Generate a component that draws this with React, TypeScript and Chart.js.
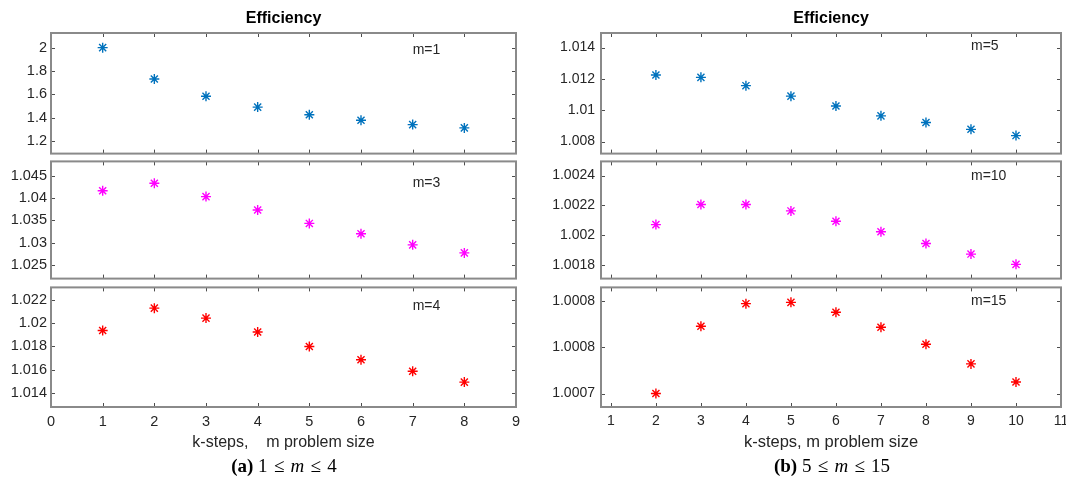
import React, { useEffect, useRef } from "react";
import { Chart, registerables } from "chart.js";

Chart.register(...registerables);

const SANS = "'Liberation Sans', Arial, Helvetica, sans-serif";
const SERIF = "'Liberation Serif', 'Times New Roman', Times, serif";

// ---------- (a) 1 <= m <= 4 ----------
const kStepsA = [1, 2, 3, 4, 5, 6, 7, 8];
const effM1 = [2.0, 1.731, 1.583, 1.49, 1.425, 1.377, 1.34, 1.312];
const effM3 = [1.0416, 1.0433, 1.0403, 1.0373, 1.0343, 1.032, 1.0295, 1.0277];
const effM4 = [1.01937, 1.0213, 1.02044, 1.01925, 1.018, 1.01686, 1.01587, 1.01493];

// ---------- (b) 5 <= m <= 15 ----------
const kStepsB = [2, 3, 4, 5, 6, 7, 8, 9, 10];
const effM5 = [1.01225, 1.0121, 1.01157, 1.0109, 1.01027, 1.00964, 1.00922, 1.00878, 1.00838];
const effM10 = [1.002071, 1.002206, 1.002206, 1.002163, 1.002094, 1.002023, 1.001944, 1.001873, 1.001804];
const effM15 = [1.0007, 1.0007724, 1.0007968, 1.0007982, 1.0007876, 1.0007714, 1.0007531, 1.0007319, 1.0007124];

// ---------- ticks & labels ----------
const xTicksA = [0, 1, 2, 3, 4, 5, 6, 7, 8, 9];
const xTicksB = [1, 2, 3, 4, 5, 6, 7, 8, 9, 10, 11];
const yTicksM1 = [1.2, 1.4, 1.6, 1.8, 2];
const yLabelsM1 = ["1.2", "1.4", "1.6", "1.8", "2"];
const yTicksM3 = [1.025, 1.03, 1.035, 1.04, 1.045];
const yLabelsM3 = ["1.025", "1.03", "1.035", "1.04", "1.045"];
const yTicksM4 = [1.014, 1.016, 1.018, 1.02, 1.022];
const yLabelsM4 = ["1.014", "1.016", "1.018", "1.02", "1.022"];
const yTicksM5 = [1.008, 1.01, 1.012, 1.014];
const yLabelsM5 = ["1.008", "1.01", "1.012", "1.014"];
const yTicksM10 = [1.0018, 1.002, 1.0022, 1.0024];
const yLabelsM10 = ["1.0018", "1.002", "1.0022", "1.0024"];
const yTicksM15 = [1.0007, 1.00075, 1.0008];
const yLabelsM15 = ["1.0007", "1.0008", "1.0008"];

const titleText = "Efficiency";
const xTitleA = "k-steps,    m problem size";
const xTitleB = "k-steps, m problem size";

type Panel = {
  xs: number[];
  ys: number[];
  color: string;
  name: string;
  nameAt: [number, number];
  xRange: [number, number];
  yRange: [number, number];
  xTicks: number[];
  yTicks: number[];
  yLabels: string[];
  col: number;
  row: number;
  xTitle?: string;
};

const BLUE = "#0072BD";
const MAGENTA = "#FF00FF";
const RED = "#FF0000";

const panels: Panel[] = [
  { xs: kStepsA, ys: effM1, color: BLUE, name: "m=1", nameAt: [7, 1.977], xRange: [0, 9], yRange: [1.0915, 2.1254], xTicks: xTicksA, yTicks: yTicksM1, yLabels: yLabelsM1, col: 0, row: 0 },
  { xs: kStepsA, ys: effM3, color: MAGENTA, name: "m=3", nameAt: [7, 1.04334], xRange: [0, 9], yRange: [1.021946, 1.048183], xTicks: xTicksA, yTicks: yTicksM3, yLabels: yLabelsM3, col: 0, row: 1 },
  { xs: kStepsA, ys: effM4, color: RED, name: "m=4", nameAt: [7, 1.02143], xRange: [0, 9], yRange: [1.012788, 1.023085], xTicks: xTicksA, yTicks: yTicksM4, yLabels: yLabelsM4, col: 0, row: 2, xTitle: xTitleA },
  { xs: kStepsB, ys: effM5, color: BLUE, name: "m=5", nameAt: [9, 1.01408], xRange: [0.78, 11], yRange: [1.007229, 1.014935], xTicks: xTicksB, yTicks: yTicksM5, yLabels: yLabelsM5, col: 1, row: 0 },
  { xs: kStepsB, ys: effM10, color: MAGENTA, name: "m=10", nameAt: [9, 1.002395], xRange: [0.78, 11], yRange: [1.0017084, 1.0024955], xTicks: xTicksB, yTicks: yTicksM10, yLabels: yLabelsM10, col: 1, row: 1 },
  { xs: kStepsB, ys: effM15, color: RED, name: "m=15", nameAt: [9, 1.0008], xRange: [0.78, 11], yRange: [1.00068547, 1.00081432], xTicks: xTicksB, yTicks: yTicksM15, yLabels: yLabelsM15, col: 1, row: 2, xTitle: xTitleB },
];

const COLS = [
  { left: 0, width: 540, yW: 51, padRight: 24, tickFont: 14.5, yPad: 4, xTitleFont: 16 },
  { left: 540, width: 540, yW: 61, padRight: 19, tickFont: 14, yPad: 6, xTitleFont: 16.5 },
];
const ROWS = [
  { top: 0, height: 160, padTop: 0, xH: 4 },
  { top: 155, height: 130, padTop: 4, xH: 4 },
  { top: 281, height: 181, padTop: 4, xH: 55 },
];

function framePlugin(p: Panel) {
  return {
    id: "matlabFrame",
    afterDatasetsDraw(chart: any) {
      const { ctx, chartArea: a } = chart;
      const xs = chart.scales.x;
      const ys = chart.scales.y;
      ctx.save();
      ctx.strokeStyle = "#4d4d4d";
      ctx.lineWidth = 1;
      ctx.beginPath();
      for (const v of p.xTicks) {
        const px = Math.round(xs.getPixelForValue(v)) + 0.5;
        ctx.moveTo(px, a.bottom);
        ctx.lineTo(px, a.bottom - 4);
        ctx.moveTo(px, a.top);
        ctx.lineTo(px, a.top + 4);
      }
      for (const v of p.yTicks) {
        const py = Math.round(ys.getPixelForValue(v)) + 0.5;
        ctx.moveTo(a.left, py);
        ctx.lineTo(a.left + 4, py);
        ctx.moveTo(a.right, py);
        ctx.lineTo(a.right - 4, py);
      }
      ctx.stroke();
      ctx.strokeStyle = "#8a8a8a";
      ctx.lineWidth = 2;
      ctx.strokeRect(a.left, a.top, a.right - a.left, a.bottom - a.top);
      ctx.fillStyle = "#262626";
      ctx.font = `14px ${SANS}`;
      ctx.textAlign = "left";
      ctx.textBaseline = "middle";
      ctx.fillText(p.name, xs.getPixelForValue(p.nameAt[0]), ys.getPixelForValue(p.nameAt[1]));
      ctx.restore();
    },
  };
}

function PanelChart({ p }: { p: Panel }) {
  const ref = useRef<HTMLCanvasElement | null>(null);
  const col = COLS[p.col];
  const row = ROWS[p.row];
  useEffect(() => {
    if (!ref.current) return;
    const isBottom = p.row === 2;
    const chart = new Chart(ref.current, {
      type: "scatter",
      data: {
        datasets: [
          {
            data: p.xs.map((x, i) => ({ x, y: p.ys[i] })),
            pointStyle: "star",
            pointRadius: 5,
            pointHoverRadius: 5,
            pointBorderWidth: 1.4,
            borderColor: p.color,
            backgroundColor: p.color,
            showLine: false,
          } as any,
        ],
      },
      options: {
        animation: false,
        responsive: false,
        maintainAspectRatio: false,
        devicePixelRatio: 1,
        events: [],
        layout: { padding: { top: row.padTop, right: col.padRight, left: 0, bottom: 0 } },
        plugins: {
          legend: { display: false },
          tooltip: { enabled: false },
          title:
            p.row === 0
              ? {
                  display: true,
                  text: titleText,
                  color: "#000",
                  fullSize: false,
                  font: { family: SANS, size: 16, weight: "bold" },
                  padding: { top: 9.4, bottom: 4.4 },
                }
              : { display: false },
        } as any,
        scales: {
          x: {
            type: "linear",
            min: p.xRange[0],
            max: p.xRange[1],
            grid: { display: false, drawTicks: false },
            border: { display: false },
            ticks: {
              display: isBottom,
              autoSkip: false,
              maxRotation: 0,
              padding: 6,
              color: "#262626",
              font: { family: SANS, size: col.tickFont },
              callback: (v: any) => String(v),
            },
            afterBuildTicks: (s: any) => {
              s.ticks = p.xTicks.map((v) => ({ value: v }));
            },
            afterFit: (s: any) => {
              s.height = row.xH;
              s.paddingLeft = 0;
              s.paddingRight = 0;
            },
            title: isBottom
              ? {
                  display: true,
                  text: p.xTitle,
                  color: "#262626",
                  font: { family: SANS, size: col.xTitleFont },
                  padding: { top: 0, bottom: 10 },
                }
              : { display: false },
          },
          y: {
            type: "linear",
            min: p.yRange[0],
            max: p.yRange[1],
            grid: { display: false, drawTicks: false },
            border: { display: false },
            ticks: {
              autoSkip: false,
              padding: col.yPad,
              color: "#262626",
              font: { family: SANS, size: col.tickFont },
              callback: (_v: any, i: number) => p.yLabels[i],
            },
            afterBuildTicks: (s: any) => {
              s.ticks = p.yTicks.map((v) => ({ value: v }));
            },
            afterFit: (s: any) => {
              s.width = col.yW;
              s.paddingTop = 0;
              s.paddingBottom = 0;
            },
          },
        } as any,
      },
      plugins: [framePlugin(p) as any],
    });
    return () => chart.destroy();
  }, []);
  return (
    <canvas
      ref={ref}
      width={col.width}
      height={row.height}
      style={{ position: "absolute", left: col.left, top: row.top, width: col.width, height: row.height }}
    />
  );
}

const rel: React.CSSProperties = { display: "inline-block", margin: "0 0.33em" };

function Caption({ center, tag, lo, hi }: { center: number; tag: string; lo: string; hi: string }) {
  return (
    <div
      style={{
        position: "absolute",
        left: center - 200,
        width: 400,
        top: 456,
        lineHeight: "20px",
        textAlign: "center",
        fontFamily: SERIF,
        fontSize: 19,
        color: "#000",
        whiteSpace: "nowrap",
      }}
    >
      <b>{tag}</b> {lo}
      <span style={rel}>≤</span>
      <i>m</i>
      <span style={rel}>≤</span>
      {hi}
    </div>
  );
}

export default function App() {
  useEffect(() => {
    document.body.style.margin = "0";
  }, []);
  return (
    <div
      style={{
        position: "absolute",
        left: 0,
        top: 0,
        width: 1066,
        height: 481,
        overflow: "hidden",
        background: "#fff",
      }}
    >
      {panels.map((p, i) => (
        <PanelChart key={i} p={p} />
      ))}
      <Caption center={284} tag="(a)" lo="1" hi="4" />
      <Caption center={832} tag="(b)" lo="5" hi="15" />
    </div>
  );
}
